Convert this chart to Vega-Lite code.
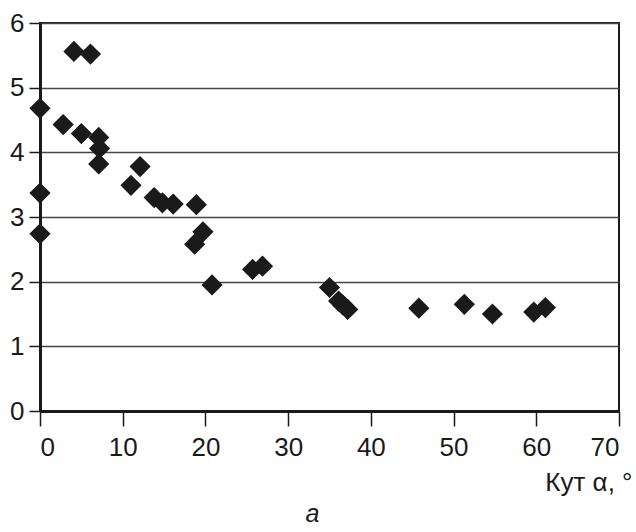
{
  "$schema": "https://vega.github.io/schema/vega-lite/v6.json",
  "width": 579,
  "height": 388,
  "autosize": {"type": "none"},
  "padding": {"left": 40, "top": 23, "right": 17, "bottom": 121},
  "background": "white",
  "config": {
    "font": "Liberation Sans",
    "view": {"stroke": "#1a1a1a", "strokeWidth": 2}
  },
  "title": {
    "text": "а",
    "orient": "bottom",
    "anchor": "middle",
    "frame": "group",
    "fontStyle": "italic",
    "fontWeight": "normal",
    "fontSize": 25,
    "color": "#1a1a1a",
    "font": "Liberation Sans",
    "offset": 7,
    "dx": -17
  },
  "data": {
    "values": [
      {"angle": 0, "value": 4.68},
      {"angle": 0, "value": 3.37},
      {"angle": 0, "value": 2.74},
      {"angle": 2.8, "value": 4.43},
      {"angle": 4.1, "value": 5.56},
      {"angle": 5.0, "value": 4.29},
      {"angle": 6.1, "value": 5.52},
      {"angle": 7.1, "value": 4.23},
      {"angle": 7.2, "value": 4.06},
      {"angle": 7.1, "value": 3.82},
      {"angle": 11.0, "value": 3.49},
      {"angle": 12.1, "value": 3.78},
      {"angle": 13.8, "value": 3.3},
      {"angle": 14.8, "value": 3.22},
      {"angle": 16.1, "value": 3.2},
      {"angle": 18.9, "value": 3.19},
      {"angle": 19.7, "value": 2.77},
      {"angle": 18.7, "value": 2.58},
      {"angle": 20.8, "value": 1.95},
      {"angle": 25.7, "value": 2.19},
      {"angle": 26.9, "value": 2.24},
      {"angle": 35.0, "value": 1.91},
      {"angle": 36.1, "value": 1.7},
      {"angle": 36.6, "value": 1.64},
      {"angle": 37.2, "value": 1.57},
      {"angle": 45.8, "value": 1.59},
      {"angle": 51.3, "value": 1.65},
      {"angle": 54.7, "value": 1.5},
      {"angle": 59.7, "value": 1.53},
      {"angle": 61.1, "value": 1.6}
    ]
  },
  "mark": {"type": "point", "shape": "diamond", "filled": true, "size": 450, "color": "#1a1a1a", "opacity": 1, "clip": false},
  "encoding": {
    "x": {
      "field": "angle",
      "type": "quantitative",
      "scale": {"domain": [0, 70], "nice": false, "zero": true},
      "axis": {
        "values": [0, 10, 20, 30, 40, 50, 60, 70],
        "grid": false,
        "domainColor": "#1a1a1a",
        "domainWidth": 3,
        "tickColor": "#1a1a1a",
        "tickWidth": 1.5,
        "tickSize": 15,
        "labelFontSize": 26,
        "labelColor": "#1a1a1a",
        "labelPadding": 8,
        "labelFont": "Liberation Sans",
        "title": "Кут α, °",
        "titleFont": "Liberation Sans",
        "titleFontSize": 26,
        "titleFontWeight": "normal",
        "titleColor": "#1a1a1a",
        "titleAnchor": "end",
        "titleAlign": "right",
        "titleBaseline": "alphabetic",
        "titleX": 592,
        "titleY": 79
      }
    },
    "y": {
      "field": "value",
      "type": "quantitative",
      "scale": {"domain": [0, 6], "nice": false},
      "axis": {
        "values": [0, 1, 2, 3, 4, 5, 6],
        "grid": true,
        "gridColor": "#444444",
        "gridWidth": 1.5,
        "gridOpacity": 1,
        "domainColor": "#1a1a1a",
        "domainWidth": 3,
        "tickColor": "#1a1a1a",
        "tickWidth": 1.5,
        "tickSize": 11,
        "labelFontSize": 26,
        "labelColor": "#1a1a1a",
        "labelPadding": 5,
        "labelFont": "Liberation Sans",
        "title": null
      }
    }
  }
}
